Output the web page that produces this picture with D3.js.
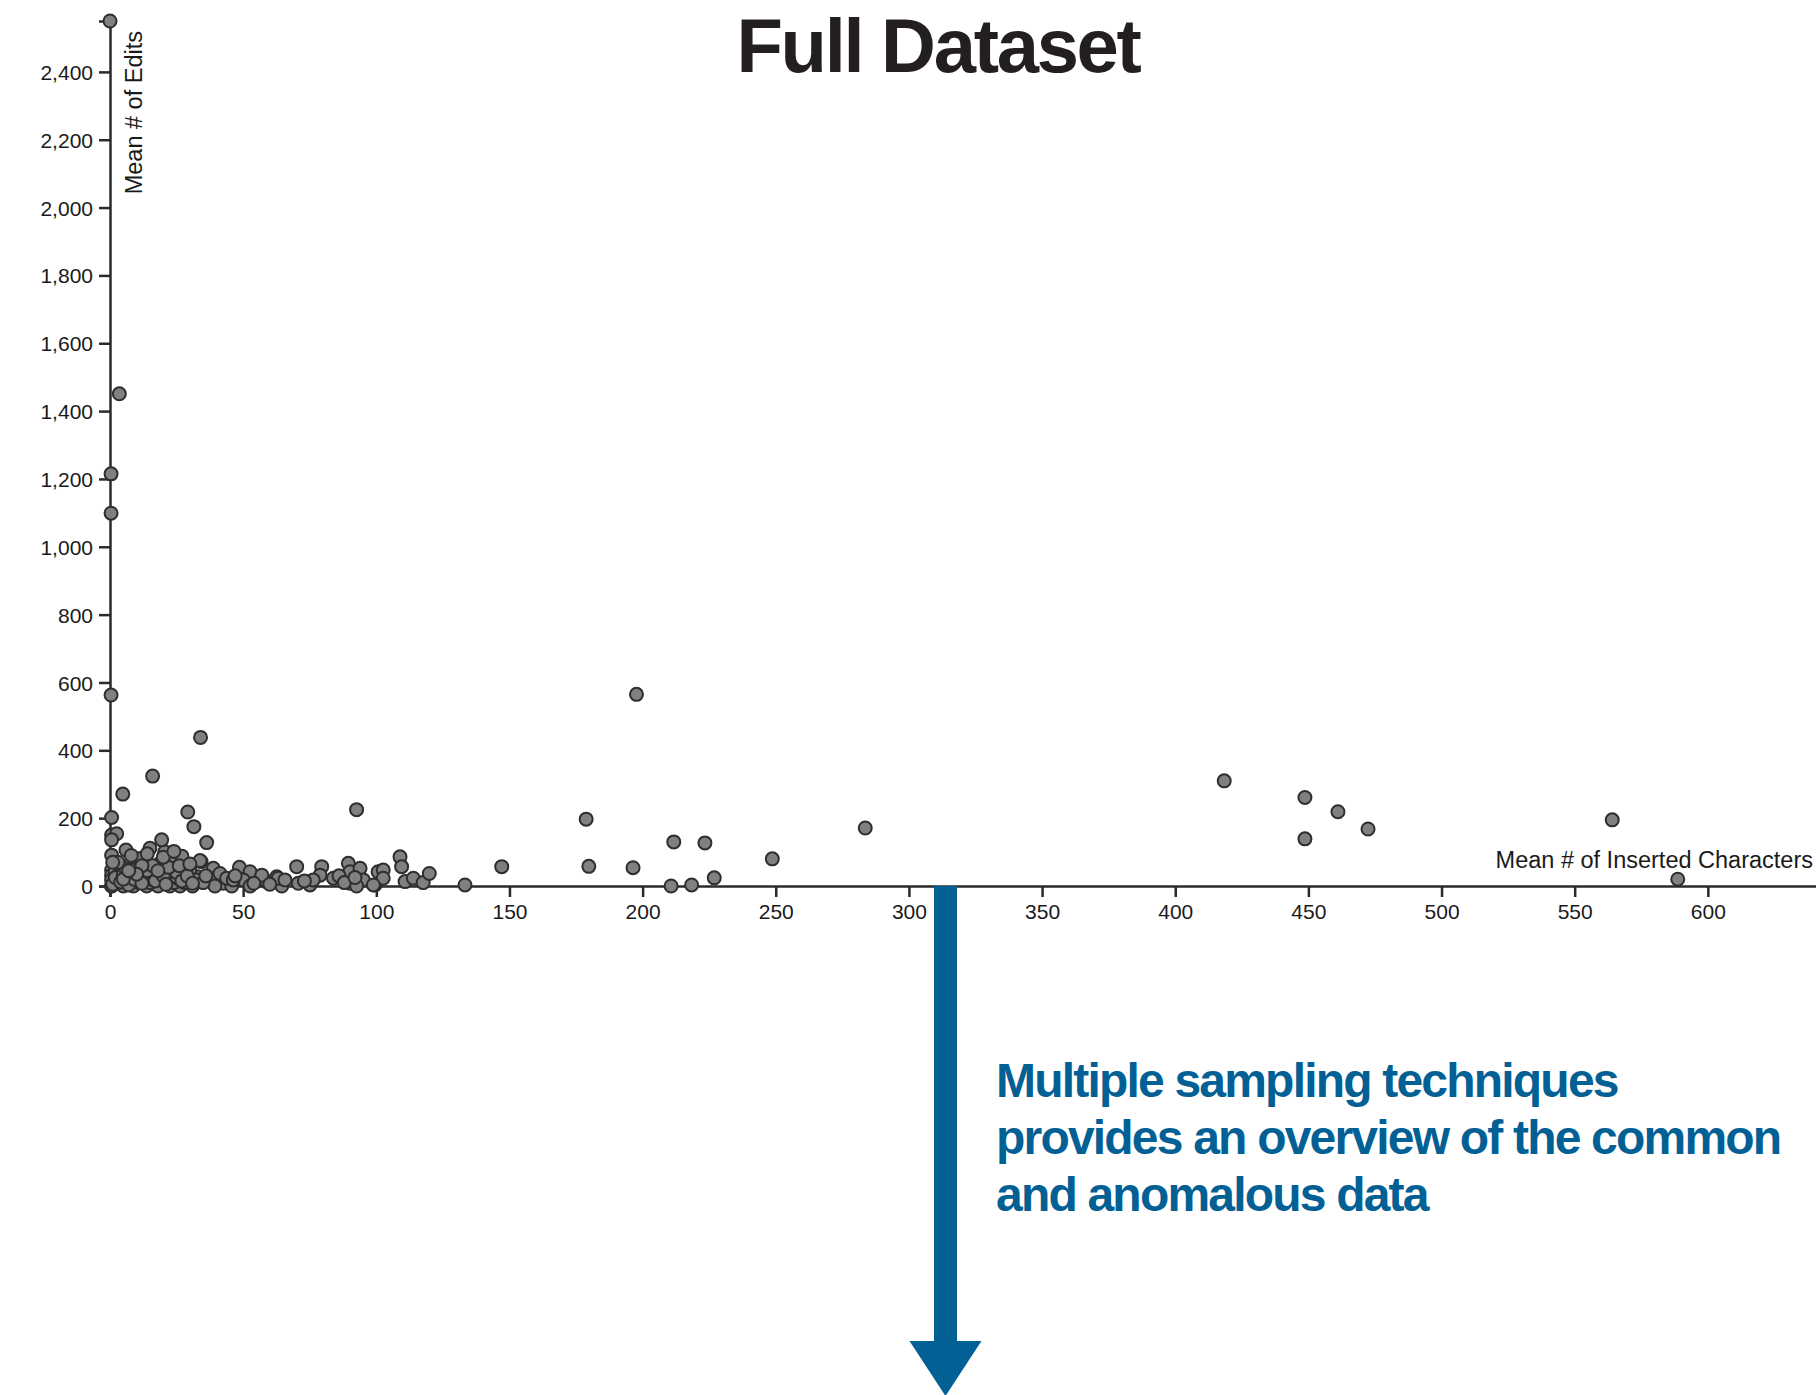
<!DOCTYPE html>
<html>
<head>
<meta charset="utf-8">
<title>Full Dataset</title>
<script src="https://cdnjs.cloudflare.com/ajax/libs/d3/7.8.5/d3.min.js"></script>
<style>
    body { margin: 0; background: #fff; }
    #chart-area { width: 1816px; height: 1395px; overflow: hidden; }
    .axis path, .axis line { stroke: #2b2b2b; stroke-width: 2.5px; }
    .axis text { font-family: "Liberation Sans", Arial, sans-serif; font-size: 21px; fill: #1a1a1a; }
    .axis-label { font-family: "Liberation Sans", Arial, sans-serif; font-size: 23.5px; fill: #1a1a1a; }
    .dot { fill: #808080; stroke: #2e2e2e; stroke-width: 2px; }
    .title { font-family: "Liberation Sans", Arial, sans-serif; font-weight: bold; font-size: 76px; letter-spacing: -2.3px; fill: #231f20; }
    .note { font-family: "Liberation Sans", Arial, sans-serif; font-weight: bold; font-size: 48px; letter-spacing: -1.8px; fill: #036095; }
</style>
</head>
<body>
<div id="chart-area"></div>
<script>

// mean # of inserted characters (x) and mean # of edits (y), one entry per dot
let insertedChars = [
    0, 3.5, 0.4, 0.4, 0.4, 34, 16, 4.8, 29.2, 31.5, 36.3, 0.6, 0.6, 2.5, 0.6, 92.6,
    197.7, 178.8, 179.8, 196.4, 211.7, 223.4, 210.7, 218.4, 226.9, 248.7, 283.6,
    418.4, 448.7, 448.7, 461.1, 472.4, 564.1, 588.7, 147.1, 133.3,
    0.6, 0.6, 0.6, 0.6, 0.6,
    0.6, 5, 8.8, 13.8, 18, 22.5, 26.3, 31,
    3, 11, 15, 24, 28,
    6.3, 11.3, 16.3, 21.3, 26.3, 30,
    2, 9, 14, 19, 25, 33,
    1.9, 7.5, 12.5, 17.5, 22.5, 28.8,
    4, 10, 16, 24,
    3.8, 10.6, 18.8, 23, 27, 20.6, 15, 19.4, 6, 11.3, 34.2, 28.5, 13, 8,
    33.8, 38.8, 48.6, 52.6, 30, 32.5, 39.4, 42.6, 50, 56.3, 58.8, 64.5, 39.4, 45.7,
    52.6, 62.6, 57, 63.2, 41.3, 43.8, 46.3, 35, 36, 47, 54, 60,
    70.1, 79.5, 89.5, 90.1, 93.9, 65.7, 70.7, 75.1, 78.9, 83.9, 90.1, 95.1, 99.5,
    76.3, 100.7, 92.6, 73, 86, 88, 92,
    108.9, 109.5, 102.6, 102.6, 98.9, 110.8, 113.9, 117.6, 119.9,
    1, 2, 4, 7, 9, 12, 14, 17, 20, 21, 25, 27, 29, 31, 5, 16, 6,
    3, 8, 12, 14, 22, 26, 30, 18, 10, 5, 7, 1, 20, 24
];

let meanEdits = [
    2550, 1451, 1215, 1099, 563, 438, 324, 271, 218, 175, 128, 202, 150, 154, 136, 225,
    565, 197, 58, 54, 130, 127, 0, 3, 24, 80, 171,
    310, 261, 139, 219, 168, 195, 20, 57, 3,
    91, 47, 32, 18, 0,
    0, 0, 0, 0, 0, 0, 0, 0,
    10, 10, 10, 10, 10,
    18, 18, 18, 18, 18, 18,
    27, 27, 27, 27, 27, 27,
    42, 42, 42, 42, 42, 42,
    55, 55, 55, 55,
    62, 77, 67, 77, 88, 101, 111, 136, 106, 81, 72, 47, 35, 48,
    75, 52, 55, 42, 47, 18, 23, 8, 18, 18, 13, 0, 0, 0,
    0, 27, 32, 23, 37, 23, 18, 10, 30, 30, 8, 5,
    57, 57, 67, 42, 52, 18, 8, 3, 32, 23, 8, 18, 3,
    18, 42, 0, 15, 30, 10, 25,
    86, 57, 47, 23, 3, 13, 23, 10, 37,
    5, 25, 12, 3, 20, 8, 45, 15, 30, 5, 40, 15, 30, 8, 35, 60, 50,
    70, 90, 60, 95, 55, 60, 65, 45, 35, 20, 45, 70, 85, 102
];

let xTickValues = [0, 50, 100, 150, 200, 250, 300, 350, 400, 450, 500, 550, 600];
let yTickValues = [0, 200, 400, 600, 800, 1000, 1200, 1400, 1600, 1800, 2000, 2200, 2400];

let xLabel = "Mean # of Inserted Characters";
let yLabel = "Mean # of Edits";
let titleText = "Full Dataset";
let noteLines = [
    "Multiple sampling techniques",
    "provides an overview of the common",
    "and anomalous data"
];


class ScatterPlot {
    constructor(_parentElement, _xs, _ys) {
        this.parentElement = _parentElement;
        this.data = _xs.map((d, i) => ({x: d, y: _ys[i]}));
        this.initVis();
    }

    initVis() {
        let vis = this;

        vis.margin = {top: 21, right: 0, bottom: 509, left: 110};
        vis.width = 1731;
        vis.height = 1395 - vis.margin.top - vis.margin.bottom;

        vis.root = d3.select("#" + vis.parentElement).append("svg")
            .attr("width", 1816)
            .attr("height", 1395);

        vis.svg = vis.root.append("g")
            .attr("transform", "translate(" + vis.margin.left + "," + vis.margin.top + ")");

        vis.x = d3.scaleLinear()
            .domain([0, 650])
            .range([0, vis.width]);

        vis.y = d3.scaleLinear()
            .domain([0, 2550])
            .range([vis.height, 0]);

        vis.xAxis = d3.axisBottom(vis.x)
            .tickValues(xTickValues)
            .tickSize(11)
            .tickPadding(7);

        vis.yAxis = d3.axisLeft(vis.y)
            .tickValues(yTickValues)
            .tickFormat(d3.format(","))
            .tickSize(11)
            .tickPadding(6);

        vis.updateVis();
    }

    updateVis() {
        let vis = this;

        vis.svg.append("g")
            .attr("class", "axis x-axis")
            .attr("transform", "translate(0," + vis.height + ")")
            .call(vis.xAxis);

        vis.svg.append("g")
            .attr("class", "axis y-axis")
            .call(vis.yAxis);

        vis.svg.select(".y-axis").selectAll("text").attr("dy", "0.36em");

        // x label kept inside the page edge
        vis.svg.append("text")
            .attr("class", "axis-label")
            .attr("x", 1816 - vis.margin.left - 3)
            .attr("y", vis.height - 18)
            .attr("text-anchor", "end")
            .text(xLabel);

        vis.svg.append("text")
            .attr("class", "axis-label")
            .attr("transform", "translate(32,10) rotate(-90)")
            .attr("text-anchor", "end")
            .text(yLabel);

        vis.svg.selectAll(".dot")
            .data(vis.data)
            .enter()
            .append("circle")
            .attr("class", "dot")
            .attr("cx", d => vis.x(d.x))
            .attr("cy", d => vis.y(d.y))
            .attr("r", 6.5);

        // title + annotation sit on the page, not in the plot group
        vis.root.append("text")
            .attr("class", "title")
            .attr("x", 938)
            .attr("y", 72)
            .attr("text-anchor", "middle")
            .text(titleText);

        let arrowX = 945.5;
        let arrowTop = vis.margin.top + vis.height;
        vis.root.append("rect")
            .attr("x", arrowX - 11.5)
            .attr("y", arrowTop)
            .attr("width", 23)
            .attr("height", 1341 - arrowTop + 1)
            .style("fill", "#036095");

        vis.root.append("path")
            .attr("d", `M${arrowX - 36},1341 L${arrowX + 36},1341 L${arrowX},1396 Z`)
            .style("fill", "#036095");

        vis.root.selectAll(".note")
            .data(noteLines)
            .enter()
            .append("text")
            .attr("class", "note")
            .attr("x", 996)
            .attr("y", (d, i) => 1097 + i * 57)
            .text(d => d);
    }
}

let plot = new ScatterPlot("chart-area", insertedChars, meanEdits);

</script>
</body>
</html>
